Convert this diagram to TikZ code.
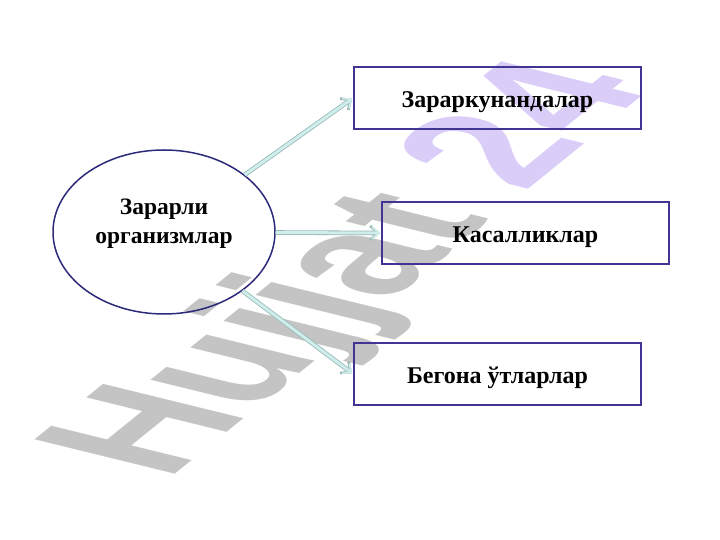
\documentclass[tikz,border=0pt]{standalone}
\usepackage{fontspec}
\setmainfont{Liberation Serif}
\newfontfamily\marksans{Liberation Sans}
\usetikzlibrary{shapes.geometric,arrows.meta}
\definecolor{boxline}{HTML}{403592}
\definecolor{ovalline}{HTML}{2C2A7A}
\definecolor{arrowpale}{HTML}{CFEDEB}
\definecolor{arrowshade}{HTML}{98B8B6}
\definecolor{markgray}{HTML}{C4C4C4}
\definecolor{marklilac}{HTML}{DACEF8}
\begin{document}
\begin{tikzpicture}[x=1pt,y=1pt]
		\tikzset{group/.style = {draw=ovalline, line width=1.5pt, ellipse, minimum width=222pt, minimum height=164pt, inner sep=0pt, font=\bfseries\fontsize{23.5}{29}\selectfont, align=center}}
		\tikzset{kind/.style = {draw=boxline, line width=1.8pt, minimum width=287pt, minimum height=62pt, inner sep=0pt, font=\bfseries\fontsize{24}{28}\selectfont}}
		\tikzset{edge/.style = {preaction={draw=arrowshade, line width=4.6pt, -{Straight Barb[length=8pt,width=14pt,line width=2.6pt]}}, draw=arrowpale, line width=3pt, -{Straight Barb[length=7pt,width=12pt,line width=1.6pt]}, shorten >=1pt}}
		
		\useasboundingbox (0,0) rectangle (720,540);
		
		% watermark
		\begin{scope}[shift={(358,269)}, cm={0.583,0.472,-1.02,0.25,(0,0)}]
		\node[transform shape, font=\marksans\bfseries\fontsize{200}{200}\selectfont, inner sep=0pt] (mark) at (0,0) {\textcolor{markgray}{Hujjat} \textcolor{marklilac}{24}};
		\end{scope}
		
		\node[group] (org)  at (164,308) {\raisebox{9pt}[\height][\depth]{\begin{tabular}{@{}c@{}}Зарарли\\организмлар\end{tabular}}};
		\node[kind]  (pest) at (497.5,442) {\raisebox{-4pt}[\height][\depth]{Зараркунандалар}};
		\node[kind]  (dis)  at (525.5,307) {\raisebox{-4pt}[\height][\depth]{Касалликлар}};
		\node[kind]  (weed) at (497.5,166) {\raisebox{-4pt}[\height][\depth]{Бегона ўтларлар}};
		
		\draw[edge] (org) to (pest.west);
		\draw[edge] (org) to (dis.west);
		\draw[edge] (org) to (weed.west);
\end{tikzpicture}
\end{document}
